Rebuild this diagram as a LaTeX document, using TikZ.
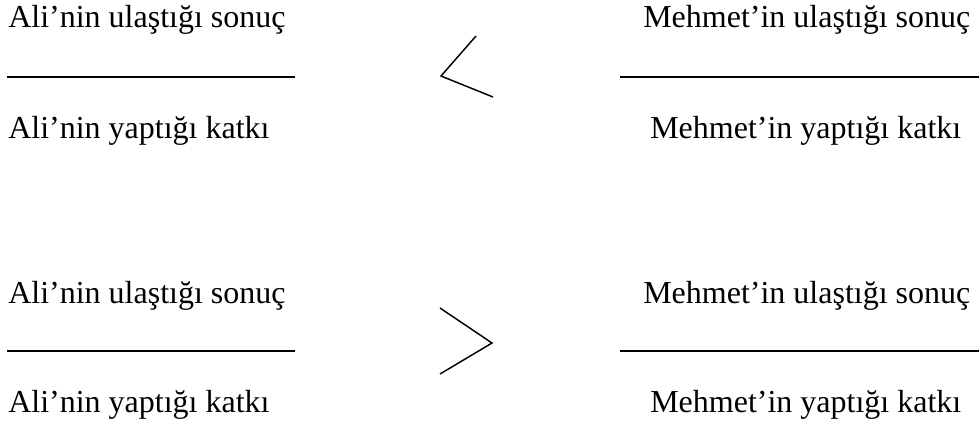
\documentclass[tikz,border=0pt]{standalone}
\usepackage{fontspec}
\setmainfont{Liberation Serif}
\usetikzlibrary{positioning}

\tikzset{
  term/.style={anchor=base west, inner sep=0pt, font=\fontsize{24}{28}\selectfont},
  rule/.style={line width=1.2pt},
  sign/.style={line width=1.1pt}
}

\begin{document}
\begin{tikzpicture}[x=0.75pt, y=-0.75pt]
        \useasboundingbox (0,0) rectangle (979,426);
        % first comparison
        \node[term] (ali1) at (8,27) {Ali’nin ulaştığı sonuç};
        \node[term] (alik1) at (8,138) {Ali’nin yaptığı katkı};
        \node[term] (meh1) at (643,27) {Mehmet’in ulaştığı sonuç};
        \node[term] (mehk1) at (650,138) {Mehmet’in yaptığı katkı};
        \draw[rule] (7,77) -- (295,77);
        \draw[rule] (620,77) -- (979,77);
        \draw[sign] (476,36) -- (441,76) -- (493,97);
        % second comparison
        \node[term] (ali2) at (8,303) {Ali’nin ulaştığı sonuç};
        \node[term] (alik2) at (8,412) {Ali’nin yaptığı katkı};
        \node[term] (meh2) at (643,303) {Mehmet’in ulaştığı sonuç};
        \node[term] (mehk2) at (650,412) {Mehmet’in yaptığı katkı};
        \draw[rule] (7,351) -- (295,351);
        \draw[rule] (620,351) -- (979,351);
        \draw[sign] (440,308) -- (492,343) -- (440,374);
      \end{tikzpicture}
\end{document}
